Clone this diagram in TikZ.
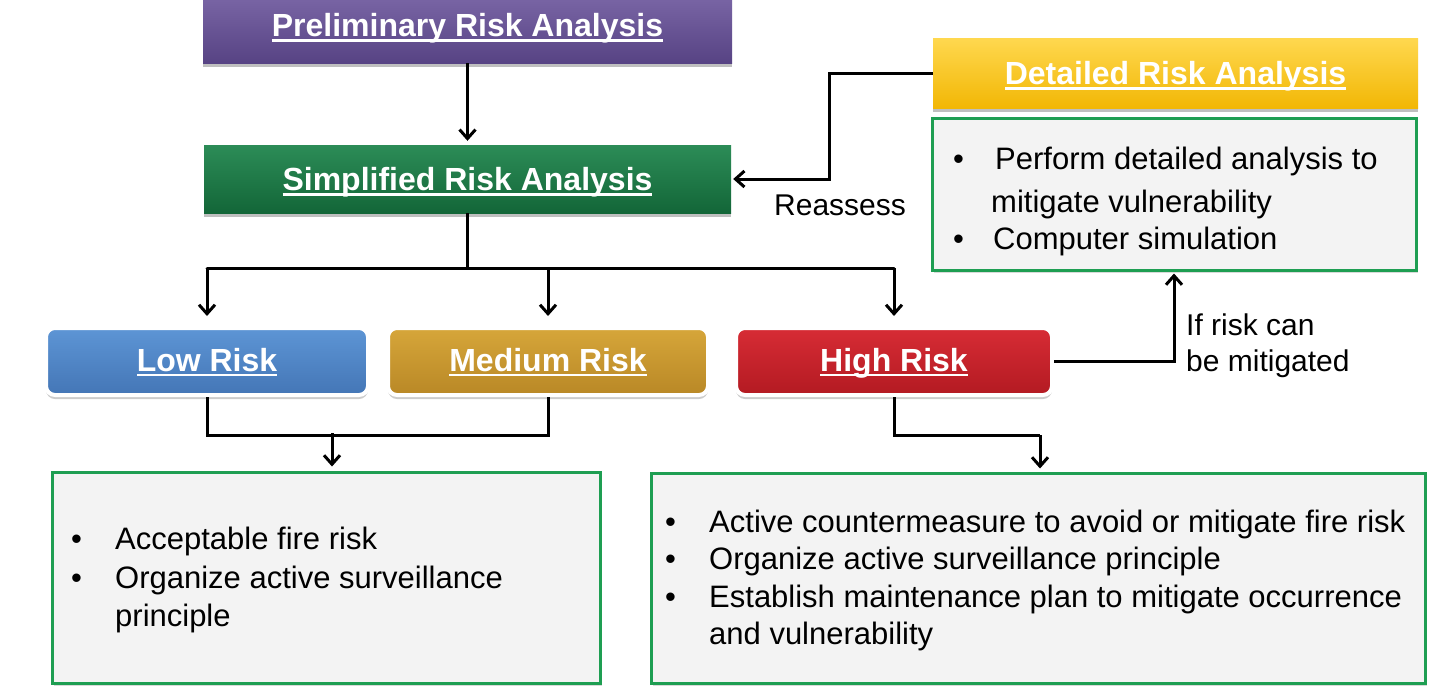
\documentclass[tikz,border=0pt]{standalone}
\usepackage{fontspec}
\setmainfont{Liberation Sans}
\usetikzlibrary{arrows.meta,shadows,calc}
\definecolor{purT}{HTML}{7E6AAA}
\definecolor{purB}{HTML}{574384}
\definecolor{grnT}{HTML}{2C8C57}
\definecolor{grnB}{HTML}{136638}
\definecolor{yelT}{HTML}{FFD84F}
\definecolor{yelB}{HTML}{F2B705}
\definecolor{bluT}{HTML}{5D95D5}
\definecolor{bluB}{HTML}{4476B6}
\definecolor{medT}{HTML}{D6A63A}
\definecolor{medB}{HTML}{B98826}
\definecolor{redT}{HTML}{D72C35}
\definecolor{redB}{HTML}{B31A22}
\definecolor{boxgray}{HTML}{F3F3F3}
\definecolor{boxgreen}{HTML}{1E9E52}
\newcommand\titlefont{\fontsize{32}{38}\selectfont\bfseries}
\newcommand\bodyfont{\fontsize{31}{37}\selectfont}
\newcommand\lblfont{\fontsize{30}{36}\selectfont}
\newsavebox\ulbox
\newcommand\ulin[1]{\sbox\ulbox{#1}\rlap{\rule[-5pt]{\wd\ulbox}{2.4pt}}\usebox\ulbox}
\begin{document}
\begin{tikzpicture}[x=1pt,y=-1pt,
  line/.style={line width=3pt,black},
  arr/.style={line,-{Straight Barb[length=9pt,width=16pt]}},
  head/.style={rectangle,text=white,font=\titlefont,inner sep=0pt,text height=31pt,text depth=7.4pt,
    drop shadow={shadow xshift=0pt,shadow yshift=-4pt,fill=black,opacity=0.25}},
  risk/.style={rectangle,rounded corners=9pt,draw=white,line width=4pt,text=white,
    font=\titlefont,inner sep=0pt,text height=27pt,text depth=7.4pt,
    drop shadow={shadow xshift=0pt,shadow yshift=-4pt,fill=black,opacity=0.2}},
  bulbox/.style={rectangle,draw=boxgreen,line width=3pt,fill=boxgray,inner sep=0pt,
    drop shadow={shadow xshift=2pt,shadow yshift=-3pt,fill=black,opacity=0.15}},
  bul/.style={anchor=base west,font=\bodyfont,inner sep=0pt},
  lbl/.style={font=\lblfont,inner sep=0pt}]
\clip (0,0) rectangle (1431,688);
\fill[white] (0,0) rectangle (1431,688);

% header boxes
\node[head,top color=purT,bottom color=purB,minimum width=529pt,minimum height=76pt] (pre) at (467.5,25) {\ulin{Preliminary Risk Analysis}};
\node[head,top color=grnT,bottom color=grnB,minimum width=527pt,minimum height=68pt] (sim) at (467.5,179) {\ulin{Simplified Risk Analysis}};
\node[head,top color=yelT,bottom color=yelB,minimum width=485pt,minimum height=70pt] (det) at (1175.5,73) {\ulin{Detailed Risk Analysis}};

% detailed bullets
\node[bulbox,minimum width=484pt,minimum height=152pt] (detb) at (1174,194) {};
\node[bul] (d1b) at (953,169) {•};
\node[bul] (d1t) at (995,169) {Perform detailed analysis to};
\node[bul] (d2t) at (991,212) {mitigate vulnerability};
\node[bul] (d3b) at (953,249) {•};
\node[bul] (d3t) at (993,249) {Computer simulation};

% risk boxes
\node[risk,top color=bluT,bottom color=bluB,minimum width=322pt,minimum height=67pt] (low) at (207,361.5) {\ulin{Low Risk}};
\node[risk,top color=medT,bottom color=medB,minimum width=320pt,minimum height=67pt] (med) at (548,361.5) {\ulin{Medium Risk}};
\node[risk,top color=redT,bottom color=redB,minimum width=316pt,minimum height=67pt] (high) at (894,361.5) {\ulin{High Risk}};

% bottom boxes
\node[bulbox,minimum width=548pt,minimum height=211pt] (lowb) at (326,577.5) {};
\node[bul] (l1b) at (71,549) {•};
\node[bul] (l1t) at (115,549) {Acceptable fire risk};
\node[bul] (l2b) at (71,588) {•};
\node[bul] (l2t) at (115,588) {Organize active surveillance};
\node[bul] (l3t) at (115,626) {principle};

\node[bulbox,minimum width=774pt,minimum height=210pt] (highb) at (1038,578) {};
\node[bul] (h1b) at (665,532) {•};
\node[bul] (h1t) at (709,532) {Active countermeasure to avoid or mitigate fire risk};
\node[bul] (h2b) at (665,569) {•};
\node[bul] (h2t) at (709,569) {Organize active surveillance principle};
\node[bul] (h3b) at (665,607) {•};
\node[bul] (h3t) at (709,607) {Establish maintenance plan to mitigate occurrence};
\node[bul] (h4t) at (709,644) {and vulnerability};

% labels
\node[lbl,anchor=west] (reas) at (774,205) {Reassess};
\node[lbl,anchor=west,align=left] (ifr) at (1186,346) {If risk can\\be mitigated};

% connectors
\draw[arr,shorten >=4pt] (pre.south) -- (sim.north);
\draw[arr,shorten >=2pt] (det.west) -- ++(-103,0) |- (sim.east);
\coordinate (br) at (467.5,268);
\draw[line] (sim.south) -- (br);
\draw[line,line cap=round] (low.north |- br) -- (high.north |- br);
\draw[arr,shorten >=10pt] (low.north |- br) -- (low.north);
\draw[arr,shorten >=10pt] (med.north |- br) -- (med.north);
\draw[arr,shorten >=10pt] (high.north |- br) -- (high.north);
\draw[line] (low.south) -- ++(0,38) -| (med.south);
\coordinate (lm) at (332,433);
\draw[arr,shorten >=4pt] (lm) -- (lm |- lowb.north);
\coordinate (hj) at (1040,435);
\draw[line] (high.south) |- (hj);
\draw[arr,shorten >=3pt] (hj) -- (hj |- highb.north);
\draw[arr,shorten >=2pt] (high.east) -| (detb.south);
\end{tikzpicture}
\end{document}
